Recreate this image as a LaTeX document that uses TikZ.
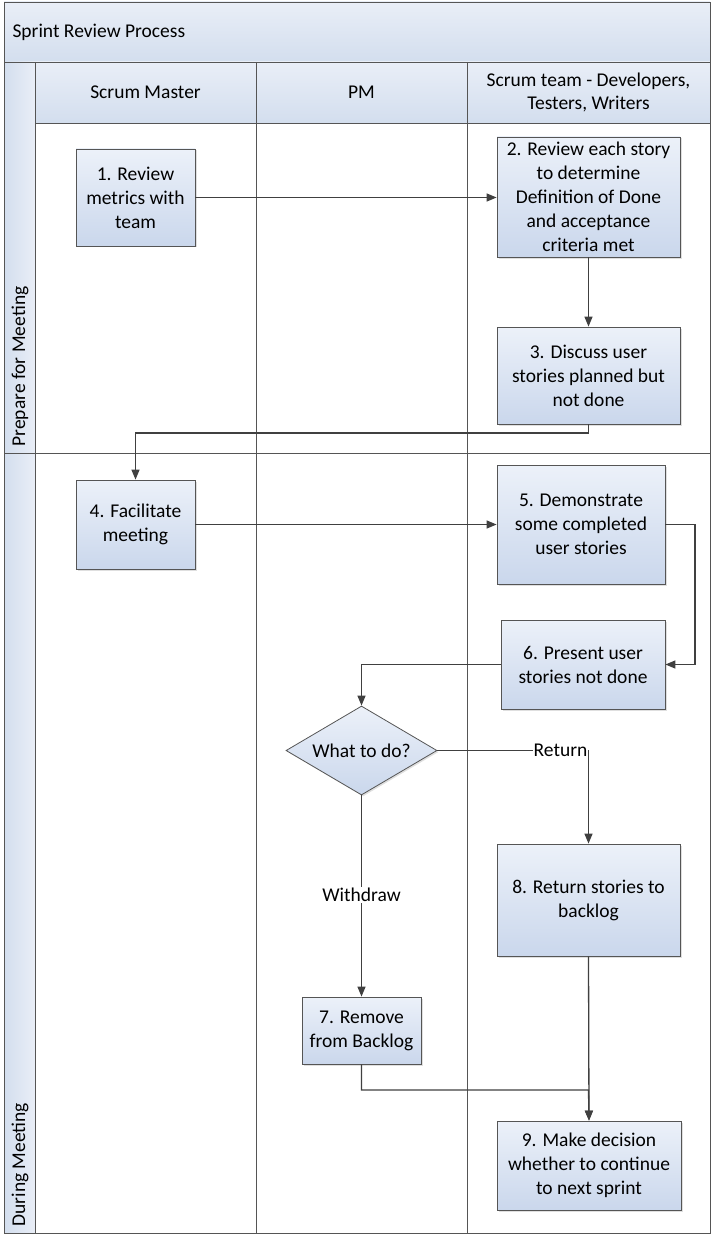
\documentclass[tikz,border=0pt]{standalone}
\usepackage{fontspec}
\setmainfont{Carlito}
\usetikzlibrary{arrows.meta,shapes.geometric,shadows}
\definecolor{lineC}{HTML}{404040}
\definecolor{frameC}{HTML}{555555}
\definecolor{boxTop}{HTML}{ECF1F9}
\definecolor{boxBot}{HTML}{CAD7EC}
\definecolor{hdrTop}{HTML}{E9EEF7}
\definecolor{hdrBot}{HTML}{D3DEEE}
\begin{document}
\begin{tikzpicture}[x=1pt,y=-1pt,
  procbox/.style={draw=frameC, line width=0.8pt, top color=boxTop, bottom color=boxBot,
    align=center, font=\fontsize{19.5}{24}\selectfont, inner sep=2pt,
    drop shadow={shadow xshift=1.5pt, shadow yshift=-1.5pt, opacity=0.25}},
  decide/.style={diamond, draw=frameC, line width=0.8pt, top color=boxTop, bottom color=boxBot,
    font=\fontsize{19.5}{24}\selectfont, aspect=1.7, inner sep=0pt,
    drop shadow={shadow xshift=1.5pt, shadow yshift=-1.5pt, opacity=0.25}},
  flow/.style={draw=lineC, line width=1.3pt, -{Triangle[length=10pt,width=8pt]}},
  lab/.style={fill=white, font=\fontsize{19.5}{24}\selectfont, inner sep=1pt},
  hdr/.style={font=\fontsize{19.5}{23}\selectfont, align=center},
  frame/.style={draw=frameC, line width=0.8pt}
]
\useasboundingbox (0,0) rectangle (712,1241);
% backgrounds
\fill[top color=hdrTop, bottom color=hdrBot] (4,2) rectangle (710,62);
\fill[top color=hdrTop, bottom color=hdrBot] (35,62) rectangle (710,123);
\fill[left color=hdrBot, right color=hdrTop] (4,62) rectangle (35,1233);
% frame lines
\draw[frame] (4,2) rectangle (710,1233);
\draw[frame] (4,62) -- (710,62);
\draw[frame] (35,123) -- (710,123);
\draw[frame] (35,62) -- (35,1233);
\draw[frame] (256,62) -- (256,1233);
\draw[frame] (467,62) -- (467,1233);
\draw[frame] (4,453) -- (710,453);
% header texts
\node[anchor=west, font=\fontsize{19.5}{22}\selectfont] (title) at (9,32) {Sprint Review Process};
\node[hdr] (h1) at (145.5,92) {Scrum Master};
\node[hdr] (h2) at (361.5,92) {PM};
\node[hdr] (h3) at (588.5,92) {Scrum team - Developers,\\Testers, Writers};
\node[rotate=90, anchor=west, font=\fontsize{19.5}{22}\selectfont] (l1) at (20,450) {Prepare for Meeting};
\node[rotate=90, anchor=west, font=\fontsize{19.5}{22}\selectfont] (l2) at (20,1230) {During Meeting};
% boxes
\node[procbox, minimum width=119pt, minimum height=97pt] (b1) at (135.5,197.5) {1. Review\\metrics with\\team};
\node[procbox, minimum width=183pt, minimum height=120pt] (b2) at (588.5,197) {2. Review each story\\to determine\\Definition of Done\\and acceptance\\criteria met};
\node[procbox, minimum width=183pt, minimum height=97pt] (b3) at (588.5,375.5) {3. Discuss user\\stories planned but\\not done};
\node[procbox, minimum width=119pt, minimum height=89pt] (b4) at (135.5,524.5) {4. Facilitate\\meeting};
\node[procbox, minimum width=168pt, minimum height=119pt] (b5) at (581,524.5) {5. Demonstrate\\some completed\\user stories};
\node[procbox, minimum width=164pt, minimum height=89pt] (b6) at (583,664.5) {6. Present user\\stories not done};
\node[decide, minimum width=151pt, minimum height=89pt] (d) at (361.5,750.5) {What to do?};
\node[procbox, minimum width=183pt, minimum height=112pt] (b8) at (588.5,900) {8. Return stories to\\backlog};
\node[procbox, minimum width=119pt, minimum height=67pt] (b7) at (361.5,1030.5) {7. Remove\\from Backlog};
\node[procbox, minimum width=184pt, minimum height=89pt] (b9) at (589,1165.5) {9. Make decision\\whether to continue\\to next sprint};
% connectors
\coordinate (c3a) at (588.5,433);
\coordinate (c3b) at (135.5,433);
\coordinate (c5a) at (695,524.5);
\coordinate (c5b) at (695,664.5);
\coordinate (c6a) at (361.5,664.5);
\coordinate (cR) at (588.5,750.5);
\coordinate (c7a) at (361.5,1090);
\coordinate (c7b) at (588.5,1090);
\draw[flow] (b1.east) -- (b1.east -| b2.west);
\draw[flow] (b2.south) -- (b3.north);
\draw[flow] (b3.south) -- (c3a) -- (c3b) -- (b4.north);
\draw[flow] (b4.east) -- (b4.east -| b5.west);
\draw[flow] (b5.east) -- (c5a) -- (c5b) -- (b6.east);
\draw[flow] (b6.west) -- (c6a) -- (d.north);
\draw[flow] (d.east) -- (cR) -- (b8.north);
\node[lab, anchor=east] (ret) at (588.5,750.5) {Return};
\draw[flow] (d.south) -- (b7.north);
\node[lab] (wd) at (361.5,895) {Withdraw};
\draw[flow] (b7.south) -- (c7a) -- (c7b) -- (b9.north);
\draw[flow] (b8.south) -- (b9.north);
\end{tikzpicture}
\end{document}
